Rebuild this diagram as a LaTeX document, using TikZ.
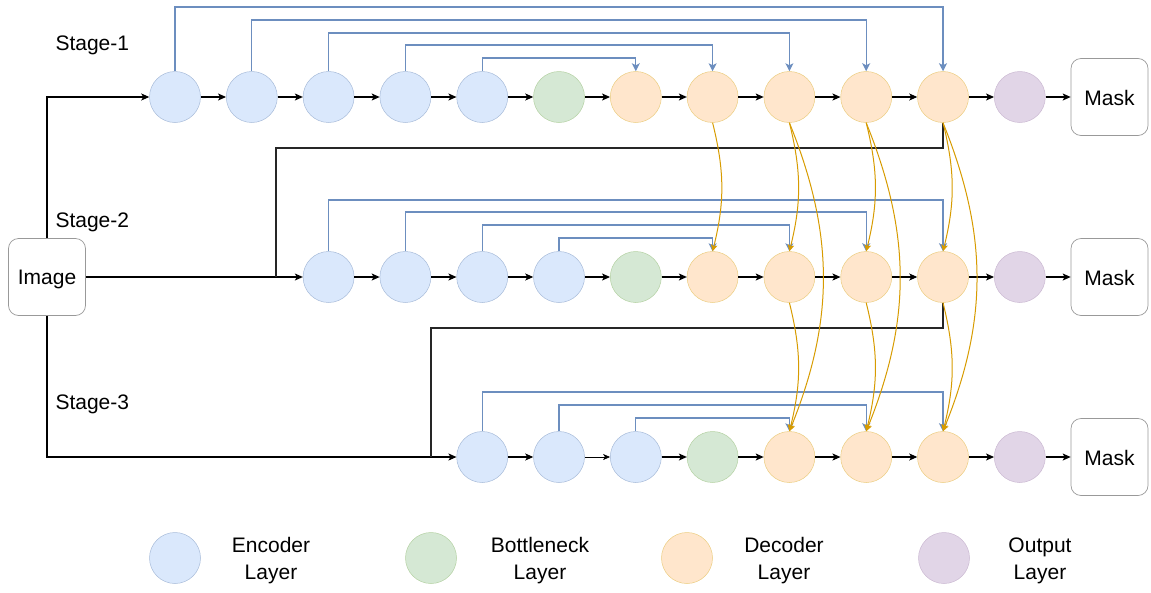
\documentclass[tikz,border=0pt]{standalone}
\usepackage{fontspec}
\setmainfont{Liberation Sans}
\usetikzlibrary{arrows.meta,calc}
\definecolor{encF}{HTML}{DAE8FC}\definecolor{encD}{HTML}{6C8EBF}
\definecolor{botF}{HTML}{D5E8D4}\definecolor{botD}{HTML}{82B366}
\definecolor{decF}{HTML}{FFE6CC}\definecolor{decD}{HTML}{D79B00}
\definecolor{outF}{HTML}{E1D5E7}\definecolor{outD}{HTML}{9673A6}
\definecolor{boxD}{HTML}{999999}
\tikzset{
  layer/.style={circle,minimum size=51pt,inner sep=0pt,line width=0.5pt},
  enc/.style={layer,fill=encF,draw=encD!60},
  bot/.style={layer,fill=botF,draw=botD!60},
  dec/.style={layer,fill=decF,draw=decD!50},
  outl/.style={layer,fill=outF,draw=outD!50},
  box/.style={draw=boxD,rounded corners=10pt,minimum width=77pt,minimum height=77pt,inner sep=0pt,line width=0.7pt},
  boxtxt/.style={font=\fontsize{21}{25}\selectfont,inner sep=0pt},
  txt/.style={font=\fontsize{21}{25}\selectfont},
  leg/.style={font=\fontsize{21}{27}\selectfont,align=center},
  arr/.style={-{Stealth[length=8pt,width=7pt,inset=2pt]},line width=1.1pt,black},
  thinarr/.style={-{Stealth[length=7pt,width=6pt,inset=2pt]},line width=0.6pt,black},
  plain/.style={line width=1.1pt,black!85},
  skip/.style={-{Stealth[length=8pt,width=8pt,inset=2pt]},line width=1.1pt,encD},
  fuse/.style={-{Stealth[length=6.5pt,width=6.5pt,inset=1.5pt]},line width=1pt,decD},
}
\begin{document}
\begin{tikzpicture}[x=1pt,y=-1pt]
\useasboundingbox (0,0) rectangle (1151,592);
\def\cx#1{175+76.8*#1}
% Stage 1
\node[enc] (s1e1) at ({\cx{0}},97) {};
\node[enc] (s1e2) at ({\cx{1}},97) {};
\node[enc] (s1e3) at ({\cx{2}},97) {};
\node[enc] (s1e4) at ({\cx{3}},97) {};
\node[enc] (s1e5) at ({\cx{4}},97) {};
\node[bot] (s1b) at ({\cx{5}},97) {};
\node[dec] (s1d1) at ({\cx{6}},97) {};
\node[dec] (s1d2) at ({\cx{7}},97) {};
\node[dec] (s1d3) at ({\cx{8}},97) {};
\node[dec] (s1d4) at ({\cx{9}},97) {};
\node[dec] (s1d5) at ({\cx{10}},97) {};
\node[outl] (s1o) at ({\cx{11}},97) {};
\node[box] (s1m) at (1109.5,97) {};
\node[boxtxt] (s1mt) at (1109.5,98) {Mask};
% Stage 2
\node[enc] (s2e1) at ({\cx{2}},277) {};
\node[enc] (s2e2) at ({\cx{3}},277) {};
\node[enc] (s2e3) at ({\cx{4}},277) {};
\node[enc] (s2e4) at ({\cx{5}},277) {};
\node[bot] (s2b) at ({\cx{6}},277) {};
\node[dec] (s2d1) at ({\cx{7}},277) {};
\node[dec] (s2d2) at ({\cx{8}},277) {};
\node[dec] (s2d3) at ({\cx{9}},277) {};
\node[dec] (s2d4) at ({\cx{10}},277) {};
\node[outl] (s2o) at ({\cx{11}},277) {};
\node[box] (s2m) at (1109.5,277) {};
\node[boxtxt] (s2mt) at (1109.5,278) {Mask};
% Stage 3
\node[enc] (s3e1) at ({\cx{4}},457) {};
\node[enc] (s3e2) at ({\cx{5}},457) {};
\node[enc] (s3e3) at ({\cx{6}},457) {};
\node[bot] (s3b) at ({\cx{7}},457) {};
\node[dec] (s3d1) at ({\cx{8}},457) {};
\node[dec] (s3d2) at ({\cx{9}},457) {};
\node[dec] (s3d3) at ({\cx{10}},457) {};
\node[outl] (s3o) at ({\cx{11}},457) {};
\node[box] (s3m) at (1109.5,457) {};
\node[boxtxt] (s3mt) at (1109.5,458) {Mask};
% Image
\node[box] (img) at (47,277) {};
\node[boxtxt] (imgt) at (47,279) {Image};
% Stage labels
\node[txt,anchor=west] (st1) at (52,45) {Stage-1};
\node[txt,anchor=west] (st2) at (52,222) {Stage-2};
\node[txt,anchor=west] (st3) at (52,404) {Stage-3};
% chain arrows
\foreach \a/\b in {s1e1/s1e2,s1e2/s1e3,s1e3/s1e4,s1e4/s1e5,s1e5/s1b,s1b/s1d1,s1d1/s1d2,s1d2/s1d3,s1d3/s1d4,s1d4/s1d5,s1d5/s1o,s1o/s1m,
  s2e1/s2e2,s2e2/s2e3,s2e3/s2e4,s2e4/s2b,s2b/s2d1,s2d1/s2d2,s2d2/s2d3,s2d3/s2d4,s2d4/s2o,s2o/s2m,
  s3e1/s3e2,s3e3/s3b,s3b/s3d1,s3d1/s3d2,s3d2/s3d3,s3d3/s3o,s3o/s3m}
  \draw[arr] (\a) -- (\b);
\draw[thinarr] (s3e2) -- (s3e3);
% inputs
\draw[arr] (img.north) |- (s1e1.west);
\draw[arr] (img.east) -- (s2e1.west);
\draw[arr] (img.south) |- (s3e1.west);
\coordinate (j1) at (276,277);
\coordinate (j1t) at (276,148);
\draw[plain] (s1d5.south) |- (j1t) -- (j1);
\coordinate (j2) at (431,457);
\coordinate (j2t) at (431,328);
\draw[plain] (s2d4.south) |- (j2t) -- (j2);
% skip connections stage 1
\draw[skip] (s1e1.north) -- (s1e1.north |- 0,7) -| (s1d5.north);
\draw[skip] (s1e2.north) -- (s1e2.north |- 0,20) -| (s1d4.north);
\draw[skip] (s1e3.north) -- (s1e3.north |- 0,33) -| (s1d3.north);
\draw[skip] (s1e4.north) -- (s1e4.north |- 0,45) -| (s1d2.north);
\draw[skip] (s1e5.north) -- (s1e5.north |- 0,58) -| (s1d1.north);
% stage 2
\draw[skip] (s2e1.north) -- (s2e1.north |- 0,200) -| (s2d4.north);
\draw[skip] (s2e2.north) -- (s2e2.north |- 0,212) -| (s2d3.north);
\draw[skip] (s2e3.north) -- (s2e3.north |- 0,225) -| (s2d2.north);
\draw[skip] (s2e4.north) -- (s2e4.north |- 0,238) -| (s2d1.north);
% stage 3
\draw[skip] (s3e1.north) -- (s3e1.north |- 0,392) -| (s3d3.north);
\draw[skip] (s3e2.north) -- (s3e2.north |- 0,405) -| (s3d2.north);
\draw[skip] (s3e3.north) -- (s3e3.north |- 0,418) -| (s3d1.north);
% fusion arrows
\draw[fuse] (s1d2.south) to[bend left=14] (s2d1.north);
\draw[fuse] (s1d3.south) to[bend left=14] (s2d2.north);
\draw[fuse] (s1d4.south) to[bend left=14] (s2d3.north);
\draw[fuse] (s1d5.south) to[bend left=14] (s2d4.north);
\draw[fuse] (s1d3.south) to[bend left=22] (s3d1.north);
\draw[fuse] (s1d4.south) to[bend left=22] (s3d2.north);
\draw[fuse] (s1d5.south) to[bend left=22] (s3d3.north);
\draw[fuse] (s2d2.south) to[bend left=14] (s3d1.north);
\draw[fuse] (s2d3.south) to[bend left=14] (s3d2.north);
\draw[fuse] (s2d4.south) to[bend left=14] (s3d3.north);
% legend
\node[enc] (lg1) at (175,558) {};
\node[bot] (lg2) at (431,558) {};
\node[dec] (lg3) at (687,558) {};
\node[outl] (lg4) at (944,558) {};
\node[leg] (lt1) at (271,561) {Encoder\\Layer};
\node[leg] (lt2) at (540,561) {Bottleneck\\Layer};
\node[leg] (lt3) at (784,561) {Decoder\\Layer};
\node[leg] (lt4) at (1040,561) {Output\\Layer};
\end{tikzpicture}
\end{document}
